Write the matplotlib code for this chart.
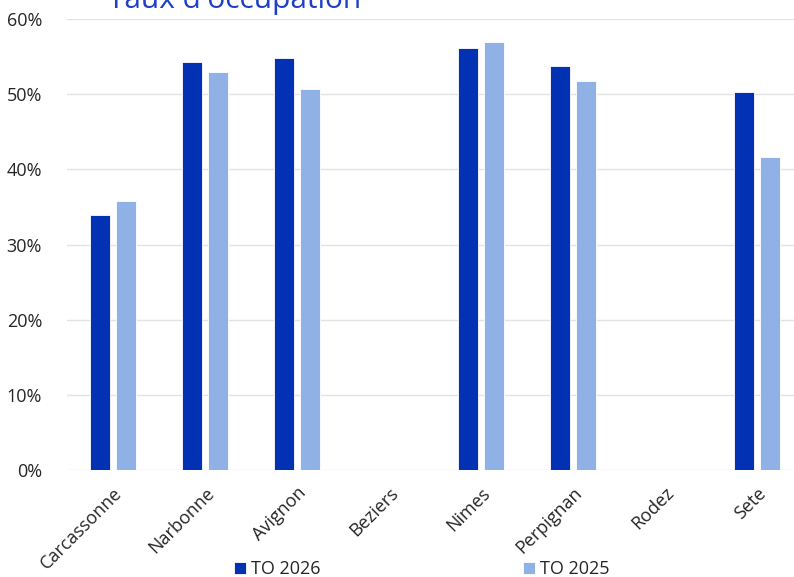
import matplotlib.pyplot as plt
import matplotlib.ticker as mticker
import numpy as np

# ---- DATA ----
villes = ["Carcassonne", "Narbonne", "Avignon", "Beziers", "Nimes",
          "Perpignan", "Rodez", "Sete"]
to_2026 = [33.9, 54.3, 54.8, np.nan, 56.1, 53.7, np.nan, 50.3]
to_2025 = [35.8, 52.9, 50.7, np.nan, 56.9, 51.7, np.nan, 41.6]

# ---- STYLE ----
plt.rcParams.update({
    "font.family": ["Open Sans", "DejaVu Sans"],
    "text.color": "#262626",
    "xtick.color": "#262626",
    "ytick.color": "#262626",
})
DARK = "#0331B3"
LIGHT = "#8FB1E5"

fig = plt.figure(figsize=(7.94, 5.77), dpi=100)
ax = fig.add_axes([67/794, 107/577, 736/794, 451/577])

x = np.arange(len(villes))
w = 0.22
ax.bar(x - 0.142, to_2026, width=w, color=DARK, edgecolor="white", linewidth=0.6,
       label="TO 2026", zorder=3)
ax.bar(x + 0.142, to_2025, width=w, color=LIGHT, edgecolor="white", linewidth=0.6,
       label="TO 2025", zorder=3)

ax.set_xlim(-0.5, len(villes) - 0.5)
ax.set_ylim(0, 60)
ax.set_yticks(range(0, 61, 10))
ax.yaxis.set_major_formatter(mticker.FuncFormatter(lambda v, p: f"{v:.0f}%"))
ax.grid(axis="y", color="#e3e3e3", linewidth=1, zorder=0)
for s in ax.spines.values():
    s.set_visible(False)
ax.tick_params(axis="both", length=0, labelsize=13)
ax.tick_params(axis="y", pad=18)
ax.set_xticks(x)
ax.set_xticklabels(villes, rotation=45, ha="right", rotation_mode="anchor")
ax.tick_params(axis="x", pad=10)

fig.text(235/794, 1 - 8/577, "Taux d'occupation", fontsize=21.5, color="#1F3FC4",
         ha="center", va="baseline")

fig.legend(loc="center", bbox_to_anchor=(422/794, 1 - 569/577), ncol=2,
           frameon=False, fontsize=13, handlelength=0.65, handleheight=0.65,
           handletextpad=0.3, columnspacing=11.2)

plt.savefig("out.png", dpi=100)
plt.close()
